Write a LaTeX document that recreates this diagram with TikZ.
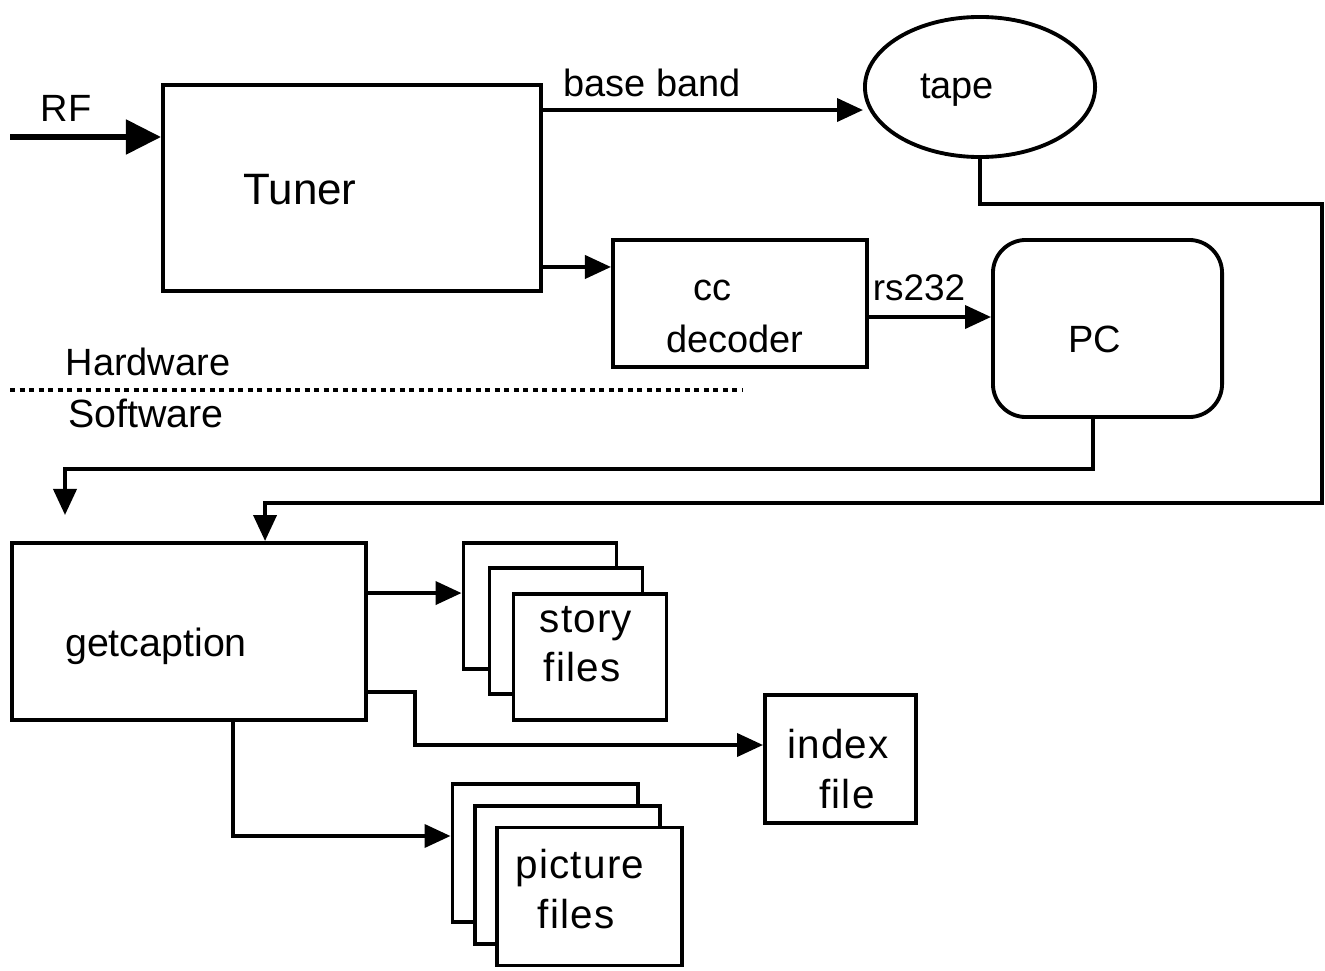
\documentclass[tikz,border=0pt]{standalone}
\usepackage{fontspec}
\setmainfont{Liberation Sans}
\newfontfamily\filefont{Liberation Sans}[LetterSpace=3]
\usetikzlibrary{positioning, arrows.meta, shapes.geometric, calc}

\begin{document}
\begin{tikzpicture}[
    x=0.01cm, y=-0.01cm,
    box/.style={rectangle, draw, line width=1.1pt, inner sep=0pt},
    tapebox/.style={ellipse, draw, line width=1.1pt, minimum width=2.3cm, minimum height=1.4cm, inner sep=0pt},
    pcbox/.style={rectangle, draw, rounded corners=0.33cm, line width=1.1pt, minimum width=2.29cm, minimum height=1.77cm},
    filebox/.style={rectangle, draw, fill=white, line width=1.1pt, minimum width=1.53cm, minimum height=1.26cm},
    picbox/.style={filebox, minimum width=1.85cm, minimum height=1.38cm},
    arrow/.style={-{Triangle[length=2.6mm, width=2.3mm]}, line width=1.1pt},
    bigarrow/.style={-{Triangle[length=3.5mm, width=3.4mm]}, line width=1.5pt},
    lbl/.style={font=\fontsize{10.8}{13}\selectfont, inner sep=0pt, anchor=base},
    big/.style={font=\fontsize{12.5}{15}\selectfont, inner sep=0pt, anchor=base},
    flbl/.style={font=\filefont\fontsize{11.5}{14}\selectfont, inner sep=0pt, anchor=base}
]
\useasboundingbox (0,0) rectangle (1325,970);

% Hardware blocks
\node[box, minimum width=3.78cm, minimum height=2.06cm] (tuner) at (352,188) {};
\node[big] (tunertxt) at (300,205) {Tuner};
\node[tapebox] (tape) at (980,87) {};
\node[lbl] (tapetxt) at (957,99) {tape};
\node[box, minimum width=2.54cm, minimum height=1.27cm] (ccdec) at (740,303.5) {};
\node[lbl] (cctxt) at (712,300) {cc};
\node[lbl] (dectxt) at (735,352) {decoder};
\node[pcbox] (pc) at (1107.5,328.5) {};
\node[lbl] (pctxt) at (1095,352) {PC};

% RF input
\coordinate (rfin) at (10,137);
\draw[bigarrow] (rfin) -- (rfin -| tuner.west);
\node[lbl] (rftxt) at (66,122) {RF};

% Hardware connections
\coordinate (bbout) at ([yshift=-0.27cm]tuner.north east);
\draw[arrow] (bbout) -- (bbout -| tape.west);
\node[lbl] (bbtxt) at (652,97) {base band};
\coordinate (ccout) at ([yshift=0.26cm]tuner.south east);
\draw[arrow] (ccout) -- (ccout -| ccdec.west);
\coordinate (rsout) at ([yshift=-0.135cm]ccdec.east);
\draw[arrow] (rsout) -- (rsout -| pc.west);
\node[lbl, font=\fontsize{10.5}{13}\selectfont] (rstxt) at (919,300) {rs232};

% Hardware / software border
\coordinate (hwl) at (10,390);
\coordinate (hwr) at (743,390);
\draw[line width=1pt, dash pattern=on 0.05cm off 0.045cm] (hwl) -- (hwr);
\node[lbl] (hwtxt) at (148,375) {Hardware};
\node[lbl, font=\fontsize{11.2}{13}\selectfont] (swtxt) at (146,427) {Software};

% Software blocks
\node[box, minimum width=3.54cm, minimum height=1.77cm] (getcap) at (189,631.5) {};
\node[lbl, font=\fontsize{11.2}{13}\selectfont] (getcaptxt) at (156,656) {getcaption};

\node[filebox] (storyback) at (540,606) {};
\node[filebox] (storymid) at (566,631) {};
\node[filebox] (story) at (590,657) {};
\node[flbl] (storytxt1) at (586,632) {story};
\node[flbl] (storytxt2) at (582,681) {files};

\node[box, minimum width=1.51cm, minimum height=1.28cm] (index) at (840.5,759) {};
\node[flbl] (indextxt1) at (838,758) {index};
\node[flbl] (indextxt2) at (847,808) {file};

\node[picbox] (picback) at (545,853) {};
\node[picbox] (picmid) at (567.5,875) {};
\node[picbox] (pic) at (589.5,896.5) {};
\node[flbl] (pictxt1) at (580,878) {picture};
\node[flbl] (pictxt2) at (576,928) {files};

% Feeds into getcaption
\coordinate (pcin) at (65,515);
\draw[arrow] ([xshift=-0.145cm]pc.south) -- ++(0,50) -| (pcin);
\draw[arrow] (tape.south) -- ++(0,45) -| (1322,503) -| ([xshift=0.76cm]getcap.north);

% getcaption outputs
\coordinate (storyout) at ([yshift=-0.52cm]getcap.north east);
\draw[arrow] (storyout) -- (storyout -| storyback.west);
\draw[arrow] ([yshift=0.30cm]getcap.south east) -- ++(47,0) |- ([yshift=0.14cm]index.west);
\draw[arrow] ([xshift=0.44cm]getcap.south) |- ([yshift=0.17cm]picback.west);

\end{tikzpicture}
\end{document}
